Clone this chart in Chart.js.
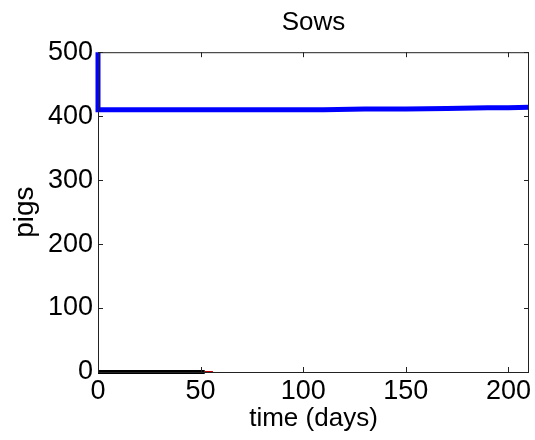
<!DOCTYPE html>
<html>
<head>
<meta charset="utf-8">
<script src="https://cdn.jsdelivr.net/npm/chart.js@4"></script>
<style>
  html, body { margin: 0; padding: 0; background: #fff; }
  #wrap { width: 535px; height: 440px; }
</style>
</head>
<body>
<div id="wrap"><canvas id="chart" width="535" height="440"></canvas></div>
<script>
// values
const sowDays   = [0, 0, 20, 50, 80, 110, 130, 150, 170, 190, 200, 210];
const sowPigs   = [500, 410, 410, 410, 410, 410, 411, 411, 412, 413, 413, 414];
const otherDays = [0, 20, 40, 52];
const otherPigs = [0, 0, 0, 0];
const redDays   = [52, 56];
const redPigs   = [0, 0];
const xTicks    = [0, 50, 100, 150, 200];
const yTicks    = [0, 100, 200, 300, 400, 500];

const toXY = (xs, ys) => xs.map((x, i) => ({ x: x, y: ys[i] }));

// matlab style box with inward ticks
const boxTicks = {
  id: 'boxTicks',
  afterDatasetsDraw(chart) {
    const c = chart.ctx, a = chart.chartArea;
    const xs = chart.scales.x, ys = chart.scales.y;
    c.save();
    c.strokeStyle = '#222';
    c.lineWidth = 1;
    c.strokeRect(a.left + 0.5, a.top + 0.5, a.right - a.left - 1, a.bottom - a.top);
    c.beginPath();
    xTicks.forEach(v => {
      const px = Math.round(xs.getPixelForValue(v)) + 0.5;
      c.moveTo(px, a.bottom); c.lineTo(px, a.bottom - 5);
      c.moveTo(px, a.top); c.lineTo(px, a.top + 5);
    });
    yTicks.forEach(v => {
      const py = Math.round(ys.getPixelForValue(v)) + 0.5;
      c.moveTo(a.left, py); c.lineTo(a.left + 5, py);
      c.moveTo(a.right, py); c.lineTo(a.right - 5, py);
    });
    c.stroke();
    c.restore();
  }
};

Chart.defaults.font.family = '"Liberation Sans", Arial, sans-serif';
Chart.defaults.color = '#000';

const ctx = document.querySelector('#chart');
const chart = new Chart(ctx, {
  type: 'line',
  plugins: [boxTicks],
  data: {
    datasets: [
      {
        data: toXY(otherDays, otherPigs),
        borderColor: '#000',
        borderWidth: 4,
        pointRadius: 0,
        clip: false
      },
      {
        data: toXY(redDays, redPigs),
        borderColor: '#c00000',
        borderWidth: 2,
        pointRadius: 0,
        clip: false
      },
      {
        data: toXY(sowDays, sowPigs),
        borderColor: '#0000ff',
        borderWidth: 5,
        pointRadius: 0,
        tension: 0,
        clip: false
      }
    ]
  },
  options: {
    responsive: false,
    animation: false,
    layout: { padding: { left: 0, right: 6, top: 0, bottom: 0 } },
    plugins: {
      legend: { display: false },
      tooltip: { enabled: false },
      title: {
        display: true,
        fullSize: false,
        text: 'Sows',
        font: { size: 26, weight: 'normal' },
        padding: { top: 7, bottom: 14 }
      }
    },
    scales: {
      x: {
        type: 'linear',
        min: 0,
        max: 210,
        afterBuildTicks: s => { s.ticks = xTicks.map(v => ({ value: v })); },
        ticks: { font: { size: 27 }, padding: 3, maxRotation: 0 },
        grid: { display: false, drawTicks: false },
        border: { display: false },
        title: {
          display: true,
          text: 'time (days)',
          font: { size: 26 },
          padding: { top: 0, bottom: 6 }
        },
        afterFit: s => { s.height = 68; }
      },
      y: {
        min: 0,
        max: 500,
        afterBuildTicks: s => { s.ticks = yTicks.map(v => ({ value: v })); },
        ticks: { font: { size: 27 }, padding: 5 },
        grid: { display: false, drawTicks: false },
        border: { display: false },
        title: {
          display: true,
          text: 'pigs',
          font: { size: 28 },
          padding: { top: 8, bottom: 0 }
        },
        afterFit: s => { s.width = 98; }
      }
    }
  }
});
</script>
</body>
</html>
